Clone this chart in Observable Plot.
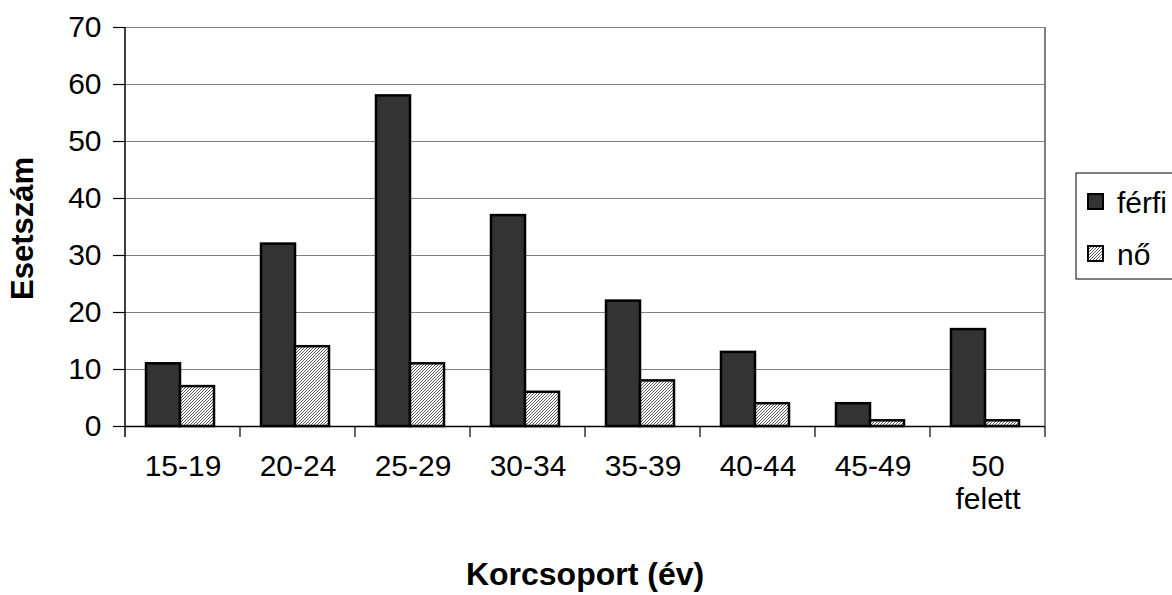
<!DOCTYPE html>
<html>
<head>
<meta charset="utf-8">
<script src="https://cdn.jsdelivr.net/npm/d3@7"></script>
<script src="https://cdn.jsdelivr.net/npm/@observablehq/plot@0.6"></script>
<style>
  body { margin: 0; background: #fff; }
  #wrap { width: 1172px; height: 595px; overflow: hidden; }
</style>
</head>
<body>
<div id="wrap"></div>
<script>
// ---- data ----
const categories = ["15-19", "20-24", "25-29", "30-34", "35-39", "40-44", "45-49", "50 felett"];
const series = ["férfi", "nő"];
const ferfi = [11, 32, 58, 37, 22, 13, 4, 17];
const no = [7, 14, 11, 6, 8, 4, 1, 1];
const yTicks = [0, 10, 20, 30, 40, 50, 60, 70];
const xTitle = "Korcsoport (év)";
const yTitle = "Esetszám";

const values = { "férfi": ferfi, "nő": no };
const data = categories.flatMap((c, i) => series.map(s => ({ age: c, sex: s, value: values[s][i] })));

const FONT = "'Liberation Sans', Arial, Helvetica, sans-serif";

const chart = Plot.plot({
  width: 1172,
  height: 595,
  marginLeft: 122,
  marginRight: 124,
  marginTop: 27,
  marginBottom: 169,
  style: { fontFamily: FONT, fontSize: "30px", background: "#fff", color: "#000" },
  fx: { domain: categories, padding: 0, label: null, axis: null },
  x: { domain: series, paddingInner: 0, paddingOuter: 0.678, align: 0.45, axis: null },
  y: { domain: [0, 70], label: null, axis: null },
  color: { domain: series, range: ["#333333", "url(#hatch)"] },
  marks: [
    Plot.gridY(yTicks, { stroke: "#808080", strokeOpacity: 1, strokeWidth: 1.2 }),
    Plot.barY(data, { fx: "age", x: "sex", y: "value", fill: "sex", stroke: "#000", strokeWidth: 2.5 }),
    Plot.ruleY([0], { stroke: "#000", strokeWidth: 1.5 }),
    Plot.axisY(yTicks, { tickSize: 12, tickPadding: 12, fontSize: 30, label: null, strokeWidth: 1.2 }),
    Plot.axisFx({ anchor: "bottom", tickSize: 0, tickPadding: 26, fontSize: 30, lineHeight: 1.1, label: null,
                  tickFormat: d => d.replace(" ", "\n") })
  ]
});

document.getElementById("wrap").appendChild(chart);

const svg = d3.select(chart);
// hatch pattern
const defs = svg.insert("defs", ":first-child");
const pat = defs.append("pattern").attr("id", "hatch").attr("patternUnits", "userSpaceOnUse")
  .attr("width", 3).attr("height", 3);
pat.append("rect").attr("width", 3).attr("height", 3).attr("fill", "#ffffff");
pat.append("path").attr("d", "M-1,1 l2,-2 M0,3 l3,-3 M2,4 l2,-2")
  .attr("stroke", "#4a4a4a").attr("stroke-width", 0.9);

const fx = chart.scale("fx"), y = chart.scale("y"), color = chart.scale("color");
const y0 = y.apply(0), yTop = y.apply(70);
const left = fx.apply(categories[0]);
const right = fx.apply(categories[categories.length - 1]) + fx.bandwidth;

const g = svg.append("g").attr("text-anchor", "start");
// right frame border
g.append("line").attr("x1", right).attr("x2", right).attr("y1", yTop).attr("y2", y0)
  .attr("stroke", "#808080").attr("stroke-width", 2);
// left axis line
g.append("line").attr("x1", left).attr("x2", left).attr("y1", yTop).attr("y2", y0 + 11)
  .attr("stroke", "#000").attr("stroke-width", 1.5);
// category boundary ticks
categories.forEach((c) => {
  const b = fx.apply(c) + fx.bandwidth;
  g.append("line").attr("x1", b).attr("x2", b).attr("y1", y0).attr("y2", y0 + 11)
    .attr("stroke", "#000").attr("stroke-width", 1.2);
});

// axis titles
g.append("text").text(xTitle).attr("x", (left + right) / 2).attr("y", 585)
  .attr("text-anchor", "middle").attr("font-weight", "bold").attr("font-size", 32)
  .attr("font-family", FONT);
g.append("text").text(yTitle)
  .attr("transform", `translate(33,${(y0 + yTop) / 2 + 2}) rotate(-90)`)
  .attr("text-anchor", "middle").attr("font-weight", "bold").attr("font-size", 31)
  .attr("font-family", FONT);

// legend
const lg = svg.append("g").attr("text-anchor", "start");
lg.append("rect").attr("x", 1076).attr("y", 173).attr("width", 120).attr("height", 106)
  .attr("fill", "#fff").attr("stroke", "#000").attr("stroke-width", 1);
series.forEach((s, i) => {
  const cy = 202 + i * 52;
  lg.append("rect").attr("x", 1088).attr("y", cy - 8).attr("width", 15).attr("height", 15)
    .attr("fill", color.apply(s)).attr("stroke", "#000").attr("stroke-width", 2);
  lg.append("text").text(s).attr("x", 1117).attr("y", cy + 11)
    .attr("font-size", 30).attr("font-family", FONT);
});
</script>
</body>
</html>
